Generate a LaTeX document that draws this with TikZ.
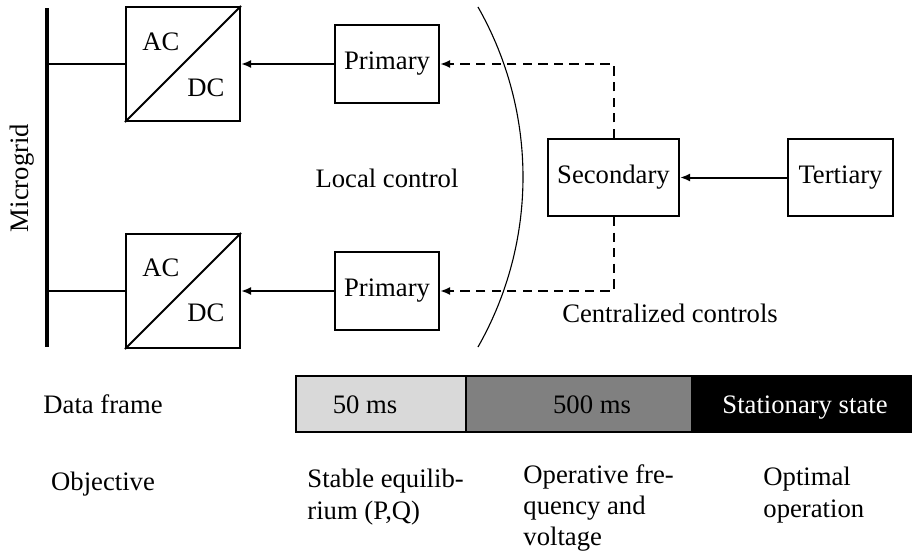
\documentclass[tikz,border=0pt]{standalone}
\usepackage{fontspec}
\setmainfont{Liberation Serif}
\usetikzlibrary{arrows.meta}
\definecolor{seglight}{gray}{0.85}
\definecolor{segmid}{gray}{0.5}
\begin{document}
\begin{tikzpicture}[x=0.45pt,y=-0.45pt,
  font=\fontsize{12}{14}\selectfont,
  block/.style={draw,line width=0.9pt,inner sep=0pt},
  convbox/.style={block,minimum width=51.3pt,minimum height=51.3pt},
  primbox/.style={block,minimum width=46.8pt,minimum height=35.1pt},
  wire/.style={line width=0.9pt},
  ctrl/.style={line width=0.9pt,-{Latex[length=4.5pt,width=3.6pt]}},
  ctrldash/.style={ctrl,dash pattern=on 4.2pt off 2.8pt},
  seg/.style={draw,line width=0.6pt,minimum height=25.2pt,inner sep=0pt},
  txt/.style={inner sep=0pt},
  para/.style={inner sep=0pt,anchor=north west,align=left}]

\useasboundingbox (0,0) rectangle (912,552);

% microgrid bus
\coordinate (busTop) at (47,8);
\coordinate (busBot) at (47,347);
\draw[line width=1.6pt] (busTop) -- (busBot);
\node[txt,rotate=90] (mg) at (22,178) {Microgrid};

% converters
\node[convbox] (conv1) at (183,64) {};
\node[convbox] (conv2) at (183,291) {};
\draw[wire] (conv1.south west) -- (conv1.north east);
\draw[wire] (conv2.south west) -- (conv2.north east);
\node[txt] (ac1) at (161,42) {AC};
\node[txt] (dc1) at (206,88) {DC};
\node[txt] (ac2) at (161,268) {AC};
\node[txt] (dc2) at (206,313) {DC};

\coordinate (tap1) at (47,64);
\coordinate (tap2) at (47,291);
\draw[wire] (tap1) -- (conv1.west);
\draw[wire] (tap2) -- (conv2.west);

% primary controllers
\node[primbox] (prim1) at (387,64) {Primary};
\node[primbox] (prim2) at (387,291) {Primary};
\draw[ctrl] (prim1.west) -- (conv1.east);
\draw[ctrl] (prim2.west) -- (conv2.east);

\node[txt] (local) at (387,178) {Local control};

% boundary between local and centralized control
\draw[line width=0.5pt] plot[domain=-29.66:29.66,samples=80]
  ({179.4+343.6*cos(\x)},{177-343.6*sin(\x)});

% secondary and tertiary controllers
\node[block,minimum width=58.95pt,minimum height=34.65pt] (sec) at (613.5,177.5) {Secondary};
\node[block,minimum width=47.25pt,minimum height=34.65pt] (ter) at (840.5,177.5) {Tertiary};
\draw[ctrl] (ter.west) -- (sec.east);
\draw[ctrldash] (sec.north) |- (prim1.east);
\draw[ctrldash] (sec.south) |- (prim2.east);

\node[txt] (central) at (670,313) {Centralized controls};

% time-scale bar
\node[seg,fill=seglight,minimum width=76.5pt] (seg1) at (381,404) {};
\node[seg,fill=segmid,minimum width=101.7pt] (seg2) at (579,404) {};
\node[seg,fill=black,minimum width=99pt] (seg3) at (802,404) {};
\node[txt,anchor=base] (t1) at (365,413) {50 ms};
\node[txt,anchor=base] (t2) at (592,413) {500 ms};
\node[txt,anchor=base,text=white] (t3) at (805,413) {Stationary state};

\node[txt,anchor=base] (dframe) at (103,413) {Data frame};
\node[txt,anchor=base] (obj) at (103,490) {Objective};

% objectives
\node[para] (o1) at (307,469) {Stable equilib-\\rium (P,Q)};
\node[para] (o2) at (523,464) {Operative fre-\\quency and\\voltage};
\node[para] (o3) at (763,467) {Optimal\\operation};
\end{tikzpicture}
\end{document}
